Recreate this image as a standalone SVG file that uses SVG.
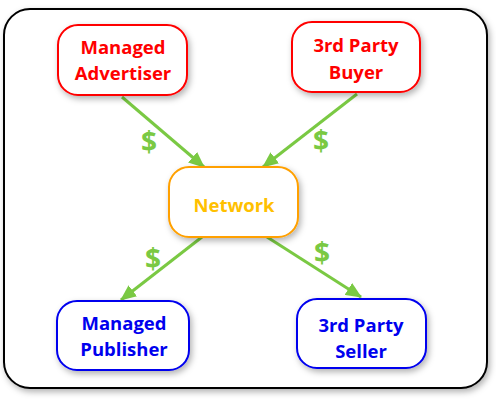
<svg xmlns="http://www.w3.org/2000/svg" width="496" height="401" viewBox="0 0 496 401">
<defs>
<filter id="sh" x="-20%" y="-20%" width="140%" height="150%">
<feDropShadow dx="2" dy="3" stdDeviation="3" flood-color="#000" flood-opacity="0.3"/>
</filter>
<marker id="ah" markerWidth="16" markerHeight="14" refX="15" refY="7" orient="auto" markerUnits="userSpaceOnUse" viewBox="0 0 16 14">
<path d="M0,0 L16,7 L0,14 Z" fill="#7ac943"/>
</marker>
<style>
.box{fill:#fff;stroke-width:2;filter:url(#sh)}
.t{font-family:"Open Sans","Liberation Sans",sans-serif;font-weight:bold;font-size:18.5px;text-anchor:middle}
.c{stroke:#7ac943;stroke-width:3;fill:none}
.d{font-family:"Open Sans","Liberation Sans",sans-serif;font-weight:bold;font-size:28px;fill:#7ac943;text-anchor:middle}
</style>
</defs>
<rect x="4" y="9" width="483" height="379" rx="26" fill="#fff" stroke="#000" stroke-width="2" filter="url(#sh)"/>
<g id="connectors">
<line class="c" x1="122" y1="97" x2="204" y2="167" marker-end="url(#ah)"/>
<line class="c" x1="357" y1="94" x2="263" y2="167" marker-end="url(#ah)"/>
<line class="c" x1="202" y1="237" x2="121" y2="300" marker-end="url(#ah)"/>
<line class="c" x1="267" y1="237" x2="361" y2="297" marker-end="url(#ah)"/>
<text class="d" x="149" y="152">$</text>
<text class="d" x="321" y="151">$</text>
<text class="d" x="153" y="269">$</text>
<text class="d" x="322" y="263">$</text>
</g>
<g id="managed-advertiser">
<rect class="box" x="58" y="25" width="129" height="70" rx="20" stroke="#ff0000"/>
<text class="t" fill="#ff0000" x="123" y="54">Managed</text>
<text class="t" fill="#ff0000" x="123" y="80">Advertiser</text>
</g>
<g id="third-party-buyer">
<rect class="box" x="292" y="22" width="128" height="70" rx="20" stroke="#ff0000"/>
<text class="t" fill="#ff0000" x="356" y="52">3rd Party</text>
<text class="t" fill="#ff0000" x="356" y="79">Buyer</text>
</g>
<g id="network">
<rect class="box" x="169" y="167" width="129" height="70" rx="20" stroke="#ffa000"/>
<text class="t" fill="#ffc000" x="234" y="212">Network</text>
</g>
<g id="managed-publisher">
<rect class="box" x="57" y="301" width="132" height="69" rx="20" stroke="#0000ee"/>
<text class="t" fill="#0000ee" x="124" y="330">Managed</text>
<text class="t" fill="#0000ee" x="124" y="356">Publisher</text>
</g>
<g id="third-party-seller">
<rect class="box" x="297" y="299" width="129" height="69" rx="20" stroke="#0000ee"/>
<text class="t" fill="#0000ee" x="361" y="332">3rd Party</text>
<text class="t" fill="#0000ee" x="361" y="358">Seller</text>
</g>
</svg>
